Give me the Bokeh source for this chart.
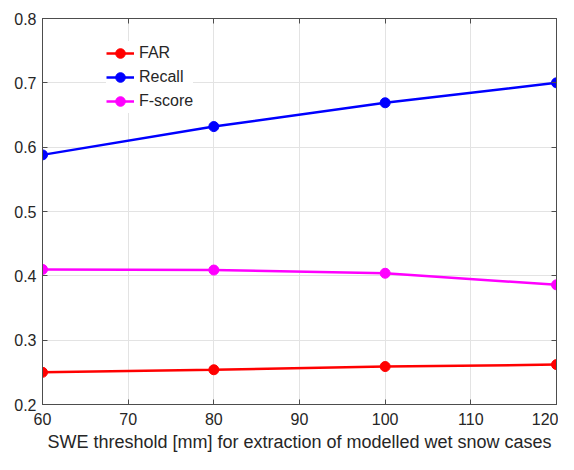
from bokeh.plotting import figure
from bokeh.models import LinearAxis, Range1d, Legend, LegendItem, FixedTicker, CustomJSTickFormatter
from bokeh.embed import file_html
from bokeh.resources import INLINE

thresholds = [60, 80, 100, 120]
far = [0.250, 0.254, 0.259, 0.262]
recall = [0.588, 0.632, 0.669, 0.700]
fscore = [0.410, 0.409, 0.404, 0.386]
x_ticks = [60, 70, 80, 90, 100, 110, 120]
y_ticks = [0.2, 0.3, 0.4, 0.5, 0.6, 0.7, 0.8]

FONT = "Liberation Sans"
TXT = "#262626"
AX = "#4d4d4d"

p = figure(width=558, height=454, output_backend="svg", toolbar_location=None,
           x_range=Range1d(60, 120), y_range=Range1d(0.2, 0.8),
           min_border_left=42, min_border_right=2, min_border_top=18,
           min_border_bottom=46, x_axis_label="SWE threshold [mm] for extraction of modelled wet snow cases")
p.outline_line_color = AX
p.outline_line_width = 1

for ax in [p.xaxis[0], p.yaxis[0]]:
    ax.major_tick_in = 5
    ax.major_tick_out = 0
    ax.minor_tick_line_color = None
    ax.axis_line_color = AX
    ax.major_tick_line_color = AX
    ax.major_label_text_font = FONT
    ax.major_label_text_font_size = "16px"
    ax.major_label_text_color = TXT
p.xaxis.ticker = FixedTicker(ticks=x_ticks)
p.yaxis.ticker = FixedTicker(ticks=y_ticks)
p.xaxis.major_label_standoff = 8
p.yaxis.major_label_standoff = 6
p.yaxis.formatter = CustomJSTickFormatter(code="return tick.toFixed(1);")
p.xaxis.axis_label_text_font = FONT
p.xaxis.axis_label_text_font_size = "18px"
p.xaxis.axis_label_text_font_style = "normal"
p.xaxis.axis_label_text_color = TXT
p.xaxis.axis_label_standoff = 4

blank = CustomJSTickFormatter(code="return '';")
top = LinearAxis(ticker=FixedTicker(ticks=x_ticks), formatter=blank, major_label_text_font_size="1px",
                 major_tick_in=5, major_tick_out=0, minor_tick_line_color=None,
                 major_label_standoff=0, axis_line_color=AX, major_tick_line_color=AX)
right = LinearAxis(ticker=FixedTicker(ticks=y_ticks), formatter=blank, major_label_text_font_size="1px",
                   major_tick_in=5, major_tick_out=0, minor_tick_line_color=None,
                   major_label_standoff=0, axis_line_color=AX, major_tick_line_color=AX)
p.add_layout(top, "above")
p.add_layout(right, "right")

p.xgrid.ticker = FixedTicker(ticks=x_ticks)
p.ygrid.ticker = FixedTicker(ticks=y_ticks)
p.grid.grid_line_color = "#e3e3e3"
p.grid.grid_line_width = 1

items = []
for name, vals, col in [("FAR", far, "#ff0000"), ("Recall", recall, "#0000ff"), ("F-score", fscore, "#ff00ff")]:
    l = p.line(thresholds, vals, line_color=col, line_width=2.5)
    c = p.scatter(thresholds, vals, size=10, fill_color=col, line_color=col)
    items.append(LegendItem(label=name, renderers=[l, c]))

leg = Legend(items=items, location=(64, 291), border_line_color=None,
             background_fill_color="white", background_fill_alpha=1.0,
             label_text_font=FONT, label_text_font_size="16px", label_text_color=TXT,
             glyph_width=28, glyph_height=24, label_height=24, spacing=-2, padding=10,
             label_standoff=5, margin=0)
p.add_layout(leg, "center")

open("out.html", "w").write(file_html(p, INLINE))
